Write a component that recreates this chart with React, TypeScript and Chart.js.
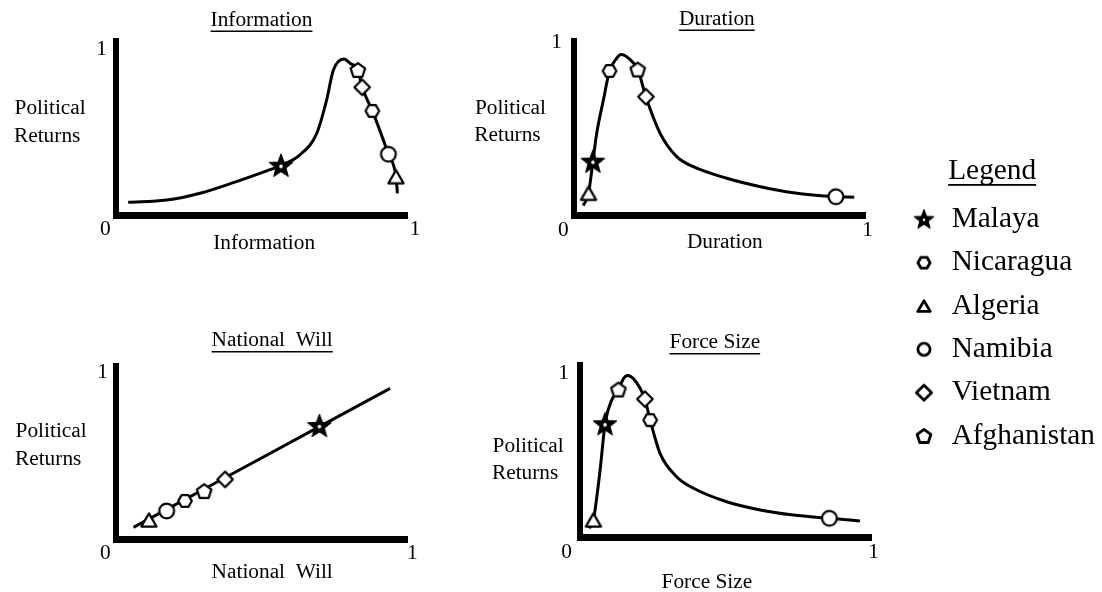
import React, { useEffect, useRef } from 'react';
import { Chart, registerables } from 'chart.js';

Chart.register(...registerables);

const FONT_FAMILY = "'Liberation Serif', 'Times New Roman', Times, serif";
Chart.defaults.font.family = FONT_FAMILY;
Chart.defaults.color = '#000';

// ---------------- data ----------------
const COUNTRIES = ['Malaya', 'Nicaragua', 'Algeria', 'Namibia', 'Vietnam', 'Afghanistan'];
const COUNTRY_MARKERS = ['star', 'hexagon', 'triangle', 'circle', 'diamond', 'pentagon'];

const PANEL_TITLES = ['Information', 'Duration', 'National  Will', 'Force Size'];
const AXIS_TICKS = [0, 1];
const AXIS_TICK_LABELS = ['0', '1'];
const Y_AXIS_LABEL = ['Political', 'Returns'];
const LEGEND_TITLE = 'Legend';

// Information
const INFO_CURVE_X = [0.042, 0.174, 0.289, 0.403, 0.518, 0.567, 0.632, 0.69, 0.724, 0.747, 0.783, 0.804, 0.831, 0.846, 0.881, 0.936, 0.962, 0.967];
const INFO_CURVE_Y = [0.079, 0.093, 0.134, 0.197, 0.268, 0.3, 0.364, 0.494, 0.695, 0.874, 0.94, 0.914, 0.874, 0.77, 0.628, 0.368, 0.233, 0.133];
const INFO_POINTS_X = [0.567, 0.881, 0.962, 0.936, 0.846, 0.831];
const INFO_POINTS_Y = [0.299, 0.628, 0.233, 0.368, 0.77, 0.874];

// Duration
const DUR_CURVE_X = [0.032, 0.05, 0.065, 0.078, 0.101, 0.122, 0.147, 0.162, 0.187, 0.219, 0.247, 0.296, 0.353, 0.41, 0.525, 0.641, 0.754, 0.9, 0.963];
const DUR_CURVE_Y = [0.055, 0.127, 0.31, 0.474, 0.667, 0.835, 0.909, 0.93, 0.909, 0.844, 0.686, 0.474, 0.339, 0.281, 0.214, 0.165, 0.13, 0.107, 0.104];
const DUR_POINTS_X = [0.065, 0.122, 0.05, 0.9, 0.247, 0.219];
const DUR_POINTS_Y = [0.31, 0.835, 0.127, 0.107, 0.686, 0.844];

// National Will
const WILL_LINE_X = [0.06, 0.942];
const WILL_LINE_Y = [0.07, 0.902];
const WILL_POINTS_X = [0.699, 0.237, 0.113, 0.174, 0.375, 0.303];
const WILL_POINTS_Y = [0.677, 0.228, 0.114, 0.168, 0.357, 0.287];

// Force Size
const FORCE_CURVE_X = [0.032, 0.046, 0.069, 0.086, 0.109, 0.132, 0.149, 0.163, 0.184, 0.223, 0.241, 0.275, 0.332, 0.39, 0.504, 0.619, 0.733, 0.857, 0.962];
const FORCE_CURVE_Y = [0.053, 0.104, 0.408, 0.688, 0.835, 0.9, 0.965, 0.985, 0.965, 0.841, 0.713, 0.51, 0.368, 0.297, 0.215, 0.165, 0.134, 0.114, 0.098];
const FORCE_POINTS_X = [0.086, 0.241, 0.046, 0.857, 0.223, 0.132];
const FORCE_POINTS_Y = [0.688, 0.713, 0.104, 0.114, 0.841, 0.9];

// ---------------- layout / style ----------------
const PLOT_FONT = 21.33;
const LEGEND_FONT = 29.33;

const PANELS = [
  {
    title: PANEL_TITLES[0], curveX: INFO_CURVE_X, curveY: INFO_CURVE_Y, ptsX: INFO_POINTS_X, ptsY: INFO_POINTS_Y,
    box: { left: 0, top: 0, width: 427, height: 256 }, rightPad: 20, yAxisWidth: 116, xAxisHeight: 40.5,
    titlePad: [7.2, 8.5], yMax: 1.046, yLabelAt: 0.56, yTickPad: 9, xTickPad: 1,
    sp: { zero: 4, one: 3, xtLead: 1, xtTrail: 0, tLead: 0, tTrail: 0, yLabel: [4, 5] },
  },
  {
    title: PANEL_TITLES[1], curveX: DUR_CURVE_X, curveY: DUR_CURVE_Y, ptsX: DUR_POINTS_X, ptsY: DUR_POINTS_Y,
    box: { left: 460, top: 0, width: 425, height: 255 }, rightPad: 20, yAxisWidth: 114, xAxisHeight: 39.8,
    titlePad: [6.2, 9.5], yMax: 1.007, yLabelAt: 0.54, yTickPad: 12, xTickPad: 2,
    sp: { zero: 4, one: 1, xtLead: 2, xtTrail: 0, tLead: 0, tTrail: 1, yLabel: [3, 4] },
  },
  {
    title: PANEL_TITLES[2], curveX: WILL_LINE_X, curveY: WILL_LINE_Y, ptsX: WILL_POINTS_X, ptsY: WILL_POINTS_Y,
    box: { left: 0, top: 300, width: 427, height: 285 }, rightPad: 20, yAxisWidth: 116, xAxisHeight: 46,
    titlePad: [27.7, 12.7], yMax: 1.036, yLabelAt: 0.56, yTickPad: 8, xTickPad: 2,
    sp: { zero: 4, one: 2, xtLead: 4, xtTrail: 0, tLead: 4, tTrail: 0, yLabel: [4, 5] },
  },
  {
    title: PANEL_TITLES[3], curveX: FORCE_CURVE_X, curveY: FORCE_CURVE_Y, ptsX: FORCE_POINTS_X, ptsY: FORCE_POINTS_Y,
    box: { left: 460, top: 300, width: 431, height: 295 }, rightPad: 20, yAxisWidth: 120, xAxisHeight: 58,
    titlePad: [29.7, 9.4], yMax: 1.051, yLabelAt: 0.47, yTickPad: 11, xTickPad: 3,
    sp: { zero: 5, one: 1, xtLead: 0, xtTrail: 7, tLead: 0, tTrail: 4, yLabel: [1, 2] },
  },
];

const LEGEND_BOX = { left: 897, top: 154, width: 205, height: 600 };

const PLOT_MARKER_SPEC: Record<string, { r: number; lw: number }> = {
  star: { r: 12.5, lw: 1 },
  hexagon: { r: 6.8, lw: 2.2 },
  triangle: { r: 8.8, lw: 2.2 },
  circle: { r: 7.4, lw: 2.2 },
  diamond: { r: 7.8, lw: 2.2 },
  pentagon: { r: 7.6, lw: 2.2 },
};
const LEGEND_MARKER_SPEC: Record<string, { r: number; lw: number }> = {
  star: { r: 10.5, lw: 1 },
  hexagon: { r: 6.1, lw: 2.8 },
  triangle: { r: 7.2, lw: 2.8 },
  circle: { r: 6.1, lw: 2.8 },
  diamond: { r: 7.6, lw: 2.8 },
  pentagon: { r: 7.2, lw: 2.8 },
};

function pad(text: string, lead: number, trail: number) {
  return ' '.repeat(lead) + text + ' '.repeat(trail);
}

const markerCache: Record<string, HTMLCanvasElement> = {};
function marker(kind: string, legend: boolean): HTMLCanvasElement {
  const key = kind + (legend ? '-L' : '-P');
  if (markerCache[key]) return markerCache[key];
  const { r, lw } = (legend ? LEGEND_MARKER_SPEC : PLOT_MARKER_SPEC)[kind];
  let size = Math.ceil(2 * r + lw + 4);
  if (size % 2) size += 1;
  const c = document.createElement('canvas');
  c.width = size;
  c.height = size;
  const g = c.getContext('2d')!;
  const cx = size / 2;
  const cy = size / 2;
  g.lineWidth = lw;
  g.lineJoin = 'round';
  g.strokeStyle = '#000';
  g.fillStyle = '#fff';
  const poly = (n: number, startDeg: number, rad: number, ccy: number) => {
    g.beginPath();
    for (let k = 0; k < n; k++) {
      const a = ((startDeg + (360 / n) * k) * Math.PI) / 180;
      const px = cx + rad * Math.cos(a);
      const py = ccy + rad * Math.sin(a);
      if (k === 0) g.moveTo(px, py);
      else g.lineTo(px, py);
    }
    g.closePath();
  };
  if (kind === 'star') {
    g.beginPath();
    for (let k = 0; k < 10; k++) {
      const a = ((-90 + 36 * k) * Math.PI) / 180;
      const rad = k % 2 === 0 ? r : r * 0.42;
      const px = cx + rad * Math.cos(a);
      const py = cy + r * 0.05 + rad * Math.sin(a);
      if (k === 0) g.moveTo(px, py);
      else g.lineTo(px, py);
    }
    g.closePath();
    g.fillStyle = '#000';
    g.fill();
    g.stroke();
    g.beginPath();
    g.fillStyle = '#fff';
    g.arc(cx, cy + r * 0.05, legend ? 1.3 : 1.8, 0, Math.PI * 2);
    g.fill();
  } else {
    if (kind === 'circle') {
      g.beginPath();
      g.arc(cx, cy, r, 0, Math.PI * 2);
      g.closePath();
    } else if (kind === 'hexagon') {
      poly(6, 0, r, cy);
    } else if (kind === 'triangle') {
      poly(3, -90, r, cy + r / 4);
    } else if (kind === 'diamond') {
      poly(4, -90, r, cy);
    } else if (kind === 'pentagon') {
      poly(5, -90, r, cy + r * 0.095);
    }
    g.fill();
    g.stroke();
  }
  markerCache[key] = c;
  return c;
}

// draws an underline beneath the chart title text (glyphs only, ignoring padding spaces)
const underlinePlugin = {
  id: 'titleUnderline',
  afterDraw(chart: any, _args: any, opts: any) {
    const tb = chart.titleBlock;
    if (!tb || !tb.options || !tb.options.display) return;
    const raw = tb.options.text;
    const text: string = Array.isArray(raw) ? raw[0] : raw;
    const size: number = opts.size;
    const ctx = chart.ctx;
    ctx.save();
    ctx.font = `${size}px ${FONT_FAMILY}`;
    const full = ctx.measureText(text).width;
    const nLead = text.length - text.trimStart().length;
    const leadW = ctx.measureText(text.slice(0, nLead)).width;
    const w = ctx.measureText(text.trim()).width;
    const cx = (tb.left + tb.right) / 2;
    const x0 = cx - full / 2 + leadW;
    const mid = tb.top + opts.padTop + (size * 1.2) / 2;
    const y = mid + size * 0.3375 + opts.gap;
    ctx.fillStyle = '#000';
    ctx.fillRect(x0, y, w, opts.thickness);
    ctx.restore();
  },
};

function PanelChart({ p }: { p: any }) {
  const ref = useRef<HTMLCanvasElement>(null);
  useEffect(() => {
    const fontP = { family: FONT_FAMILY, size: PLOT_FONT, lineHeight: 1.2, weight: 'normal' };
    const markerSets = COUNTRIES.map((name, i) => ({
      type: 'scatter',
      label: name,
      data: [{ x: p.ptsX[i], y: p.ptsY[i] }],
      pointStyle: marker(COUNTRY_MARKERS[i], false),
      pointRadius: 8,
      showLine: false,
      clip: false,
      order: 1,
    }));
    const curveSet = {
      type: 'line',
      label: 'curve',
      data: p.curveX.map((x: number, i: number) => ({ x, y: p.curveY[i] })),
      borderColor: '#000',
      borderWidth: 3,
      pointRadius: 0,
      fill: false,
      cubicInterpolationMode: 'monotone',
      clip: false,
      order: 2,
    };
    const chart = new Chart(ref.current!, {
      type: 'scatter',
      data: { datasets: [...markerSets, curveSet] as any },
      options: {
        responsive: true,
        maintainAspectRatio: false,
        animation: false,
        events: [],
        layout: { padding: { left: 0, top: 0, right: p.rightPad, bottom: 0 } },
        plugins: {
          legend: { display: false },
          tooltip: { enabled: false },
          title: {
            display: true,
            text: pad(p.title, p.sp.tLead, p.sp.tTrail),
            fullSize: false,
            align: 'center',
            font: fontP,
            color: '#000',
            padding: { top: p.titlePad[0], bottom: p.titlePad[1] },
          },
          titleUnderline: { size: PLOT_FONT, padTop: p.titlePad[0], gap: 3.3, thickness: 1.5 },
        } as any,
        scales: {
          x: {
            type: 'linear',
            bounds: 'data',
            min: 0,
            max: 1,
            grid: { display: false, drawTicks: false },
            border: { display: true, width: 7, color: '#000' },
            afterBuildTicks: (s: any) => {
              s.ticks = AXIS_TICKS.map((value) => ({ value }));
            },
            afterFit: (s: any) => {
              s.height = p.xAxisHeight;
              s.paddingLeft = 0;
              s.paddingRight = 0;
            },
            ticks: {
              autoSkip: false,
              maxRotation: 0,
              minRotation: 0,
              padding: p.xTickPad,
              font: fontP,
              color: '#000',
              callback: (v: any) =>
                v === AXIS_TICKS[0]
                  ? pad(AXIS_TICK_LABELS[0], 0, p.sp.zero)
                  : pad(AXIS_TICK_LABELS[1], p.sp.one, 0),
            },
            title: {
              display: true,
              text: pad(p.title, p.sp.xtLead, p.sp.xtTrail),
              font: fontP,
              color: '#000',
              padding: 0,
            },
          },
          y: {
            type: 'linear',
            bounds: 'data',
            min: 0,
            max: p.yMax,
            grid: { display: false, drawTicks: false },
            border: { display: true, width: 6, color: '#000' },
            afterBuildTicks: (s: any) => {
              s.ticks = [{ value: p.yLabelAt }, { value: AXIS_TICKS[1] }];
            },
            afterFit: (s: any) => {
              s.width = p.yAxisWidth;
              s.paddingTop = 0;
              s.paddingBottom = 0;
            },
            ticks: {
              autoSkip: false,
              padding: p.yTickPad,
              font: { family: FONT_FAMILY, size: PLOT_FONT, lineHeight: 1.3, weight: 'normal' },
              color: '#000',
              callback: (v: any) =>
                v === AXIS_TICKS[1]
                  ? AXIS_TICK_LABELS[1]
                  : Y_AXIS_LABEL.map((t, j) => pad(t, 0, p.sp.yLabel[j])),
            },
          },
        } as any,
      },
      plugins: [underlinePlugin as any],
    } as any);
    return () => chart.destroy();
  }, []);
  return (
    <div style={{ position: 'absolute', left: p.box.left, top: p.box.top, width: p.box.width, height: p.box.height }}>
      <canvas ref={ref} />
    </div>
  );
}

function LegendChart() {
  const ref = useRef<HTMLCanvasElement>(null);
  useEffect(() => {
    const fontL = { family: FONT_FAMILY, size: LEGEND_FONT, lineHeight: 1.2, weight: 'normal' };
    const chart = new Chart(ref.current!, {
      type: 'scatter',
      data: {
        datasets: COUNTRIES.map((name, i) => ({
          label: name,
          data: [],
          pointStyle: marker(COUNTRY_MARKERS[i], true),
        })),
      },
      options: {
        responsive: true,
        maintainAspectRatio: false,
        animation: false,
        events: [],
        layout: { padding: 0 },
        scales: { x: { display: false }, y: { display: false } },
        plugins: {
          tooltip: { enabled: false },
          title: {
            display: true,
            text: pad(LEGEND_TITLE, 0, 2),
            fullSize: true,
            align: 'center',
            font: fontL,
            color: '#000',
            padding: { top: 0, bottom: 1.5 },
          },
          titleUnderline: { size: LEGEND_FONT, padTop: 0, gap: 2.5, thickness: 1.8 },
          legend: {
            display: true,
            position: 'top',
            align: 'start',
            fullSize: true,
            labels: {
              usePointStyle: true,
              boxWidth: 26,
              padding: 14,
              font: fontL,
              color: '#000',
              generateLabels: () =>
                COUNTRIES.map((text, i) => ({
                  text,
                  fillStyle: '#fff',
                  strokeStyle: '#000',
                  lineWidth: 0,
                  pointStyle: marker(COUNTRY_MARKERS[i], true),
                  hidden: false,
                  datasetIndex: i,
                  fontColor: '#000',
                })),
            },
          },
        } as any,
      },
      plugins: [underlinePlugin as any],
    } as any);
    return () => chart.destroy();
  }, []);
  return (
    <div style={{ position: 'absolute', left: LEGEND_BOX.left, top: LEGEND_BOX.top, width: LEGEND_BOX.width, height: LEGEND_BOX.height }}>
      <canvas ref={ref} />
    </div>
  );
}

export default function App() {
  return (
    <div
      style={{
        position: 'fixed',
        left: 0,
        top: 0,
        width: 1102,
        height: 592,
        overflow: 'hidden',
        background: '#fff',
      }}
    >
      {PANELS.map((p, i) => (
        <PanelChart key={i} p={p} />
      ))}
      <LegendChart />
    </div>
  );
}
